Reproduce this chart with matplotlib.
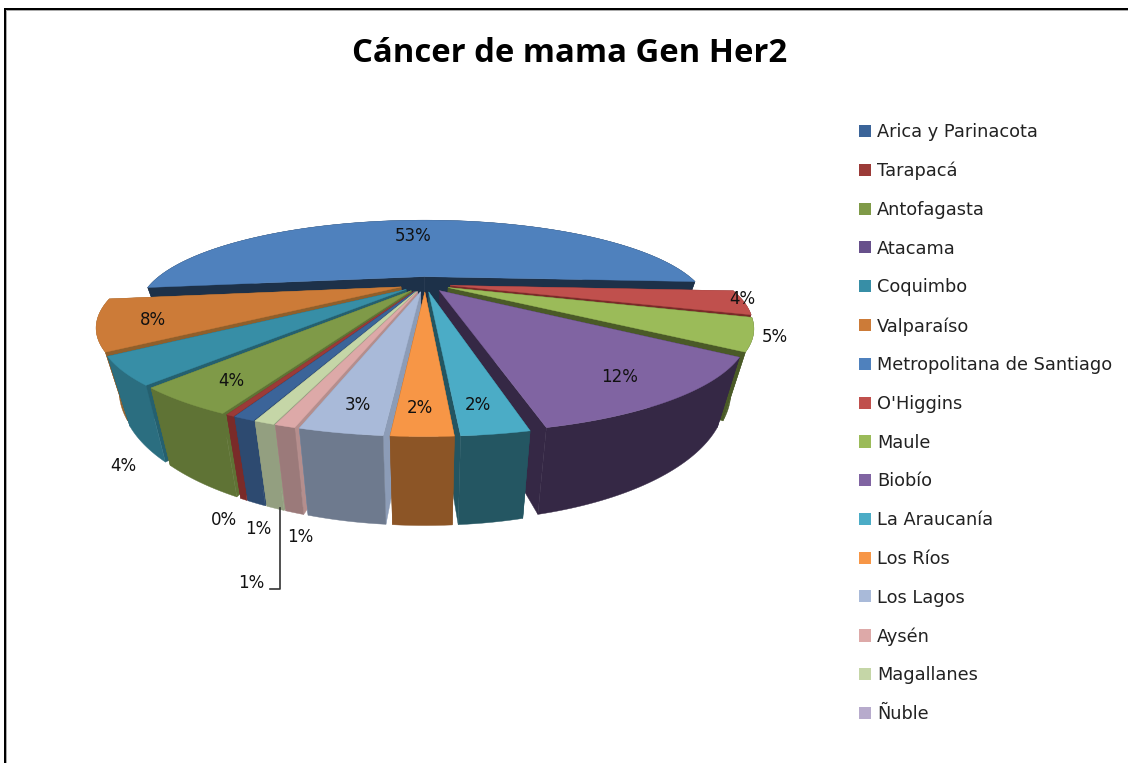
import numpy as np
import matplotlib
matplotlib.use("Agg")
import matplotlib.pyplot as plt
from matplotlib.patches import Polygon, Patch

regions = ["Arica y Parinacota", "Tarapacá", "Antofagasta", "Atacama", "Coquimbo", "Valparaíso",
           "Metropolitana de Santiago", "O'Higgins", "Maule", "Biobío", "La Araucanía", "Los Ríos",
           "Los Lagos", "Aysén", "Magallanes", "Ñuble"]
values = [0.8, 0.3, 4.0, 0.0, 4.0, 8.0, 53.0, 4.0, 5.0, 11.47, 2.45, 2.2, 3.0, 0.75, 0.75, 0.0]
pct_labels = ["1%", "0%", "4%", None, "4%", "8%", "53%", "4%", "5%", "12%", "2%", "2%", "3%", "1%", "1%", None]
top_colors = ["#3B6499", "#9B3B38", "#7F9A48", "#67508B", "#378EA6", "#CC7B38", "#4F81BD", "#C0504D",
              "#9BBB59", "#8064A2", "#4BACC6", "#F79646", "#A9BAD9", "#DDA9A8", "#C5D6A7", "#B7ABCC"]
wall_colors = ["#2D4A70", "#7A2B29", "#5F7335", "#45355E", "#2B6E80", "#8F5F2B", "#1D3149", "#7A2B29",
               "#4A5A27", "#352845", "#245662", "#8C5526", "#6E7A8E", "#9B7A7A", "#939F80", "#7D7390"]
side_colors = ["#2D4A70", "#7A2B29", "#5F7335", "#45355E", "#25606F", "#8F5F2B", "#1D3149", "#7A2B29",
               "#4A5A27", "#352845", "#235561", "#8C5526", "#8C9CB7", "#B58E8D", "#939F80", "#7D7390"]
label_xy = [(258, 529), (224, 520), (231, 381), None, (123, 466), (153, 320), (413, 236), (742, 299),
            (775, 337), (620, 377), (478, 405), (420, 408), (358, 405), (300, 537), (251, 583), None]

CX, CY = 425, 284
A, B, K, H = 300, 90, 0.41, 52.5
SHRINK = 0.93     # the bottom face is narrower than the top: verticals converge downwards
R, E = 0.915, 0.085
END_METRO = 3.6   # degrees below the right horizontal where the big slice ends


def proj(u, v, z=0.0):
    w = 1.0 + K * v
    s = 1.0 - (1.0 - SHRINK) * z
    return CX + s * A * u / w, CY - B * v / w + z * H / w


fig = plt.figure(figsize=(11.28, 7.63), dpi=100)
ax = fig.add_axes([0, 0, 1, 1])
ax.set_xlim(0, 1128)
ax.set_ylim(763, 0)
ax.axis("off")

arr = np.array(values)
share = arr / arr.sum() * 360.0
start = (END_METRO - share[6]) - share[:6].sum()  # clockwise angle measured below the right horizontal
edges = start + np.concatenate([[0], np.cumsum(share)])

slices = []
for i, val in enumerate(values):
    if val <= 0:
        continue
    a0, a1 = np.radians(edges[i]), np.radians(edges[i + 1])
    mid = (a0 + a1) / 2
    slices.append((-np.sin(mid), i, a0, a1, mid))
slices.sort(key=lambda s: -s[0])

order = 2.0
for vm, i, a0, a1, mid in slices:
    ou, ov = E * np.cos(mid), -E * np.sin(mid)
    t = np.linspace(a0, a1, max(6, int((a1 - a0) * 60)))
    us, vs = ou + R * np.cos(t), ov - R * np.sin(t)
    top = [proj(u, v) for u, v in zip(us, vs)]
    bot = [proj(u, v, 1) for u, v in zip(us, vs)]
    apex, apex_b = proj(ou, ov), proj(ou, ov, 1)
    for quad in ([apex, top[0], bot[0], apex_b], [apex, apex_b, bot[-1], top[-1]]):
        ax.add_patch(Polygon(quad, closed=True, fc=side_colors[i], ec=side_colors[i], lw=0.3, zorder=order))
    ax.add_patch(Polygon(top + bot[::-1], closed=True, fc=wall_colors[i], ec=wall_colors[i], lw=0.3, zorder=order))
    ax.add_patch(Polygon([apex] + top, closed=True, fc=top_colors[i], ec=top_colors[i], lw=0.3, zorder=order))
    order += 0.01

ax.plot([280, 280, 270], [508, 589, 589], color="#333333", lw=1.2, zorder=3, clip_on=False)

font = ["DejaVu Sans"]
for lab, xy in zip(pct_labels, label_xy):
    if lab:
        ax.text(xy[0], xy[1], lab, ha="center", va="center", fontsize=12, color="#111111",
                family=font, zorder=5)

ax.text(570, 54, "Cáncer de mama Gen Her2", ha="center", va="center", fontsize=23.7, fontweight="bold",
        family=["Open Sans"], color="black")

handles = [Patch(fc=c, ec="none") for c in top_colors]
fig.legend(handles, regions, loc="upper left", bbox_to_anchor=(859 / 1128, 1 - 123 / 763), frameon=False,
           labelspacing=1.165, handlelength=0.67, handleheight=0.67, handletextpad=0.33,
           borderpad=0, borderaxespad=0, prop={"family": "DejaVu Sans", "size": 12.8}, labelcolor="#222222")

ax.plot([6.5, 6.5, 1128], [763, 10.5, 10.5], color="#AAAAAA", lw=0.72, clip_on=False, zorder=6,
        snap=False, solid_joinstyle="miter")
ax.plot([5, 5, 1128], [763, 9, 9], color="black", lw=1.44, clip_on=False, zorder=7,
        snap=False, solid_joinstyle="miter")

fig.savefig("out.png", dpi=100)
